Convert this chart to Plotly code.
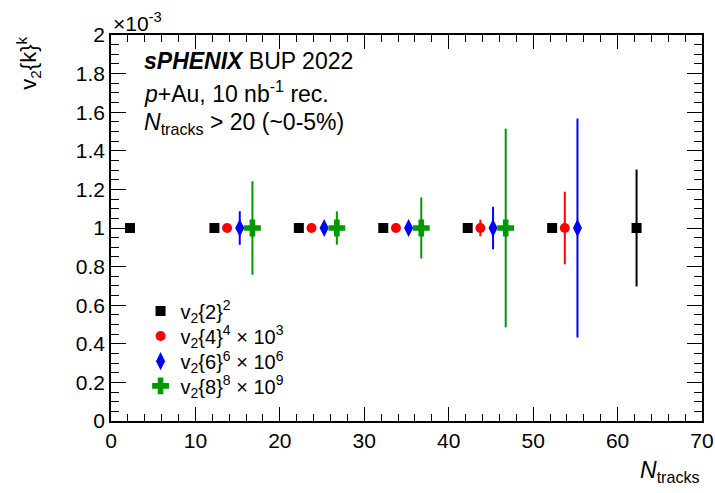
import plotly.graph_objects as go

# values in units of 1e-3
x_k2 = [2.25, 12.25, 22.25, 32.25, 42.25, 52.25, 62.25]
y_k2 = [1.0, 1.0, 1.0, 1.0, 1.0, 1.0, 1.0]
e_k2 = [0.005, 0.005, 0.005, 0.005, 0.008, 0.015, 0.303]

x_k4 = [13.75, 23.75, 33.75, 43.75, 53.75]
y_k4 = [1.0, 1.0, 1.0, 1.0, 1.0]
e_k4 = [0.015, 0.01, 0.012, 0.043, 0.188]

x_k6 = [15.25, 25.25, 35.25, 45.25, 55.25]
y_k6 = [1.0, 1.0, 1.0, 1.0, 1.0]
e_k6 = [0.087, 0.03, 0.035, 0.11, 0.567]

x_k8 = [16.75, 26.75, 36.75, 46.75]
y_k8 = [1.0, 1.0, 1.0, 1.0]
e_k8 = [0.242, 0.086, 0.158, 0.515]

names = ["v<sub>2</sub>{2}<sup>2</sup>",
         "v<sub>2</sub>{4}<sup>4</sup> × 10<sup>3</sup>",
         "v<sub>2</sub>{6}<sup>6</sup> × 10<sup>6</sup>",
         "v<sub>2</sub>{8}<sup>8</sup> × 10<sup>9</sup>"]

FONT = "Liberation Sans, Arial, sans-serif"

fig = go.Figure()
series = [
    (x_k2, y_k2, e_k2, "black", "square", 10),
    (x_k4, y_k4, e_k4, "#ff0000", "circle", 10),
    (x_k6, y_k6, e_k6, "#0000ff", "diamond-tall", 13),
    (x_k8, y_k8, e_k8, "#009900", "cross", 14),
]
legend_ids = ["legend", "legend2", "legend3", "legend4"]
for (xs, ys, es, col, sym, sz), nm, lg in zip(series, names, legend_ids):
    fig.add_trace(go.Scatter(
        x=xs, y=ys, mode="markers", name=nm, legend=lg,
        marker=dict(color=col, symbol=sym, size=sz, line=dict(width=0)),
        error_y=dict(type="data", array=es, visible=True, color=col,
                     thickness=2, width=0),
    ))

axis_common = dict(
    showgrid=False, zeroline=False, showline=True, linecolor="black",
    linewidth=1.5, mirror="ticks", ticks="inside", tickcolor="black",
    automargin=False,
    tickfont=dict(family=FONT, size=21, color="black"),
)
fig.update_xaxes(range=[0, 70], dtick=10, tick0=0, ticklen=14, tickwidth=1,
                 minor=dict(ticks="inside", dtick=2, ticklen=7, tickcolor="black"),
                 **axis_common)
fig.update_yaxes(range=[0, 2], dtick=0.2, tick0=0, ticklen=15, tickwidth=1,
                 minor=dict(ticks="inside", dtick=0.05, ticklen=8, tickcolor="black"),
                 **axis_common)

legend_rows_y = [0.285, 0.220, 0.155, 0.091]
leg_style = dict(x=0.05, xanchor="left", yanchor="middle",
                 bgcolor="rgba(0,0,0,0)", font=dict(size=20, family=FONT),
                 itemwidth=30)

fig.update_layout(
    width=715, height=493,
    margin=dict(l=111, r=13, t=35, b=72, autoexpand=False),
    plot_bgcolor="white", paper_bgcolor="white",
    font=dict(family=FONT, color="black"),
    showlegend=True,
    legend=dict(y=legend_rows_y[0], **leg_style),
    legend2=dict(y=legend_rows_y[1], **leg_style),
    legend3=dict(y=legend_rows_y[2], **leg_style),
    legend4=dict(y=legend_rows_y[3], **leg_style),
)

ann = [
    dict(text="×10<sup>-3</sup>", x=0.0, y=1.0, xref="paper", yref="paper",
         xanchor="left", yanchor="bottom", showarrow=False, font=dict(size=21), yshift=-2),
    dict(text="v<sub>2</sub>{k}<sup>k</sup>", x=-0.14, y=1.0, xref="paper", yref="paper",
         xanchor="center", yanchor="top", textangle=-90, showarrow=False, font=dict(size=22)),
    dict(text="<i>N</i><sub>tracks</sub>", x=1.0, y=-0.087, xref="paper", yref="paper",
         xanchor="right", yanchor="top", showarrow=False, font=dict(size=23)),
    dict(text="<b><i>sPHENIX</i></b> BUP 2022", x=0.052, y=0.932, xref="paper", yref="paper",
         xanchor="left", yanchor="middle", showarrow=False, font=dict(size=23)),
    dict(text="<i>p</i>+Au, 10 nb<sup>-1</sup> rec.", x=0.052, y=0.852, xref="paper", yref="paper",
         xanchor="left", yanchor="middle", showarrow=False, font=dict(size=23)),
    dict(text="<i>N</i><sub>tracks</sub> > 20 (~0-5%)", x=0.052, y=0.772, xref="paper", yref="paper",
         xanchor="left", yanchor="middle", showarrow=False, font=dict(size=23)),
]
fig.update_layout(annotations=ann)

# remove the default 8px page margin so the figure fills the window exactly
fig.write_html("out.html", config={"displayModeBar": False},
               post_script="document.body.style.margin='0';document.body.style.overflow='hidden';")
